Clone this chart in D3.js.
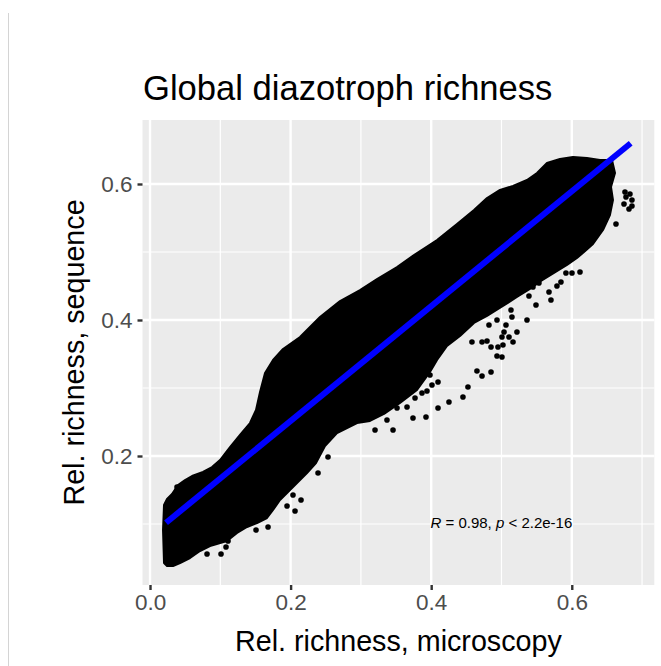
<!DOCTYPE html>
<html>
<head>
<meta charset="utf-8">
<script src="https://cdn.jsdelivr.net/npm/d3@7/dist/d3.min.js"></script>
<style>
  html, body { margin: 0; padding: 0; background: #fff; }
  svg { display: block; font-family: "Liberation Sans", Arial, Helvetica, sans-serif; }
</style>
</head>
<body>
<svg id="chart" width="661" height="666"></svg>
<script>
// ---------------- DATA ----------------
const titleText = "Global diazotroph richness";
const xLabel = "Rel. richness, microscopy";
const yLabel = "Rel. richness, sequence";

const xTicks = [0.0, 0.2, 0.4, 0.6];
const xTickLabels = ["0.0", "0.2", "0.4", "0.6"];
const xMinor = [0.1, 0.3, 0.5, 0.7];
const yTicks = [0.2, 0.4, 0.6];
const yTickLabels = ["0.2", "0.4", "0.6"];
const yMinor = [0.1, 0.3, 0.5];

// outline of the dense (fully overlapping) point cloud
const cloudX = [0.0199,0.0185,0.0199,0.0242,0.0313,0.0398,0.0498,0.0597,0.0754,0.0882,0.0996,0.1138,0.1280,0.1422,0.1508,0.1565,0.1636,0.1750,0.1892,0.2134,0.2418,0.2703,0.2987,0.3229,0.3514,0.3755,0.4083,0.4367,0.4609,0.4794,0.4979,0.5164,0.5363,0.5505,0.5647,0.5832,0.6017,0.6216,0.6401,0.6572,0.6615,0.6558,0.6586,0.6543,0.6444,0.6302,0.6174,0.6074,0.5932,0.5747,0.5562,0.5405,0.5220,0.5021,0.4794,0.4609,0.4410,0.4225,0.4083,0.3983,0.3798,0.3556,0.3329,0.3129,0.2945,0.2660,0.2489,0.2361,0.2233,0.2091,0.1949,0.1849,0.1750,0.1664,0.1522,0.1380,0.1238,0.1095,0.0853,0.0711,0.0569,0.0427,0.0327,0.0242];
const cloudY = [0.0426,0.0912,0.1279,0.1368,0.1441,0.1574,0.1647,0.1706,0.1765,0.1838,0.1941,0.2132,0.2309,0.2485,0.2676,0.2941,0.3221,0.3412,0.3574,0.3750,0.4044,0.4279,0.4441,0.4603,0.4779,0.4956,0.5176,0.5412,0.5618,0.5794,0.5912,0.5971,0.6059,0.6162,0.6309,0.6368,0.6397,0.6382,0.6353,0.6353,0.6162,0.5956,0.5765,0.5544,0.5324,0.5118,0.5000,0.4912,0.4809,0.4691,0.4574,0.4456,0.4338,0.4206,0.4059,0.3956,0.3765,0.3618,0.3412,0.3235,0.2971,0.2779,0.2618,0.2515,0.2485,0.2338,0.2147,0.1897,0.1750,0.1603,0.1456,0.1353,0.1206,0.1088,0.1015,0.0956,0.0868,0.0750,0.0676,0.0603,0.0500,0.0426,0.0382,0.0382];

// individually visible points outside the dense cloud
const pointX = [0.0384,0.0811,0.1010,0.1081,0.1110,0.1508,0.1679,0.1949,0.2063,0.2034,0.2148,0.2390,0.2532,0.2418,0.3201,0.3371,0.3457,0.3741,0.3926,0.4097,0.4253,0.4452,0.4523,0.4651,0.4723,0.4851,0.4936,0.5007,0.4950,0.5021,0.5164,0.3770,0.3869,0.3940,0.4011,0.4097,0.3898,0.3983,0.3514,0.3656,0.4580,0.4723,0.6117,0.6003,0.5917,0.5846,0.5789,0.5676,0.5704,0.5533,0.5448,0.5391,0.5491,0.5363,0.5135,0.4822,0.4936,0.5064,0.5036,0.5007,0.5107,0.5220,0.4851,0.5149,0.4794,0.6757,0.6828,0.6856,0.6856,0.6814,0.6743,0.6629,0.6771];
const pointY = [0.1544,0.0559,0.0559,0.0662,0.0750,0.0912,0.0956,0.1265,0.1191,0.1426,0.1353,0.1750,0.1985,0.2088,0.2382,0.2529,0.2382,0.2559,0.2574,0.2706,0.2794,0.2868,0.3015,0.3250,0.3176,0.3235,0.3471,0.3456,0.3603,0.3632,0.3676,0.2853,0.2926,0.2956,0.3044,0.3088,0.3206,0.3191,0.2706,0.2721,0.3676,0.3676,0.4706,0.4691,0.4691,0.4559,0.4500,0.4412,0.4294,0.4544,0.4485,0.4353,0.4221,0.4000,0.4147,0.3926,0.4000,0.3926,0.3824,0.3750,0.3750,0.3824,0.3603,0.4044,0.3691,0.5882,0.5853,0.5765,0.5676,0.5632,0.5706,0.5412,0.5809];

// linear fit end points
const fitX = [0.0228, 0.6838];
const fitY = [0.1019, 0.6599];

const statR = "0.98";
const statP = "2.2e-16";
const statPos = [0.399, 0.094]; // data coords of annotation start

// ---------------- CHART ----------------
const svg = d3.select("#chart");
const font = '"Liberation Sans", Arial, Helvetica, sans-serif';

const x = d3.scaleLinear().domain([-0.0107, 0.7174]).range([142.5, 654.3]);
const y = d3.scaleLinear().domain([0.0103, 0.6941]).range([585, 120]);
const [px0, px1] = x.range();
const [py0, py1] = y.range();

svg.append("rect").attr("width", 661).attr("height", 666).attr("fill", "#fff");
// thin page edge line
svg.append("line").attr("x1", 8.5).attr("x2", 8.5).attr("y1", 13).attr("y2", 666)
  .attr("stroke", "#d4d4d4").attr("stroke-width", 1);

// panel
svg.append("rect").attr("x", px0).attr("y", py1)
  .attr("width", px1 - px0).attr("height", py0 - py1).attr("fill", "#EBEBEB");

const grid = svg.append("g");
grid.selectAll(".xmin").data(xMinor).join("line")
  .attr("x1", d => x(d)).attr("x2", d => x(d)).attr("y1", py1).attr("y2", py0)
  .attr("stroke", "#fff").attr("stroke-width", 1.2);
grid.selectAll(".ymin").data(yMinor).join("line")
  .attr("y1", d => y(d)).attr("y2", d => y(d)).attr("x1", px0).attr("x2", px1)
  .attr("stroke", "#fff").attr("stroke-width", 1.2);
grid.selectAll(".xmaj").data(xTicks).join("line")
  .attr("x1", d => x(d)).attr("x2", d => x(d)).attr("y1", py1).attr("y2", py0)
  .attr("stroke", "#fff").attr("stroke-width", 2.4);
grid.selectAll(".ymaj").data(yTicks).join("line")
  .attr("y1", d => y(d)).attr("y2", d => y(d)).attr("x1", px0).attr("x2", px1)
  .attr("stroke", "#fff").attr("stroke-width", 2.4);

// clip to panel
svg.append("clipPath").attr("id", "clip").append("rect")
  .attr("x", px0).attr("y", py1).attr("width", px1 - px0).attr("height", py0 - py1);
const plot = svg.append("g").attr("clip-path", "url(#clip)");

// dense cloud
const cloud = cloudX.map((v, i) => [v, cloudY[i]]);
plot.append("path").datum(cloud)
  .attr("d", d3.line().x(d => x(d[0])).y(d => y(d[1])).curve(d3.curveLinearClosed))
  .attr("fill", "#000").attr("stroke", "#000").attr("stroke-width", 2)
  .attr("stroke-linejoin", "round");

// individual points
plot.selectAll("circle.pt").data(pointX.map((v, i) => [v, pointY[i]])).join("circle")
  .attr("class", "pt").attr("cx", d => x(d[0])).attr("cy", d => y(d[1])).attr("r", 2.8)
  .attr("fill", "#000");

// fit line
plot.append("line")
  .attr("x1", x(fitX[0])).attr("y1", y(fitY[0]))
  .attr("x2", x(fitX[1])).attr("y2", y(fitY[1]))
  .attr("stroke", "#0000FF").attr("stroke-width", 6).attr("stroke-linecap", "butt");

// annotation
const ann = svg.append("text").attr("x", x(statPos[0])).attr("y", y(statPos[1]))
  .attr("font-size", 15).attr("fill", "#000").attr("font-family", font);
ann.append("tspan").attr("font-style", "italic").text("R");
ann.append("tspan").text(" = " + statR + ", ");
ann.append("tspan").attr("font-style", "italic").text("p");
ann.append("tspan").text(" < " + statP);

// axes
const xAxis = svg.append("g").attr("transform", `translate(0,${py0})`)
  .call(d3.axisBottom(x).tickValues(xTicks).tickFormat((d, i) => xTickLabels[i]).tickSize(5).tickPadding(4));
const yAxis = svg.append("g").attr("transform", `translate(${px0},0)`)
  .call(d3.axisLeft(y).tickValues(yTicks).tickFormat((d, i) => yTickLabels[i]).tickSize(5).tickPadding(5));
[xAxis, yAxis].forEach(g => {
  g.select(".domain").remove();
  g.selectAll(".tick line").attr("stroke", "#333333").attr("stroke-width", 2.4);
  g.selectAll(".tick text").attr("fill", "#4D4D4D").attr("font-size", 22.5).attr("font-family", font);
});

// titles
svg.append("text").attr("x", 143).attr("y", 99.5).attr("font-size", 34.6)
  .attr("font-family", font).attr("fill", "#000").text(titleText);
svg.append("text").attr("x", (px0 + px1) / 2).attr("y", 651).attr("text-anchor", "middle")
  .attr("font-size", 28.7).attr("font-family", font).attr("fill", "#000").text(xLabel);
svg.append("text").attr("transform", `translate(83.5,${(py0 + py1) / 2}) rotate(-90)`)
  .attr("text-anchor", "middle").attr("font-size", 28.7).attr("font-family", font)
  .attr("fill", "#000").text(yLabel);
</script>
</body>
</html>
